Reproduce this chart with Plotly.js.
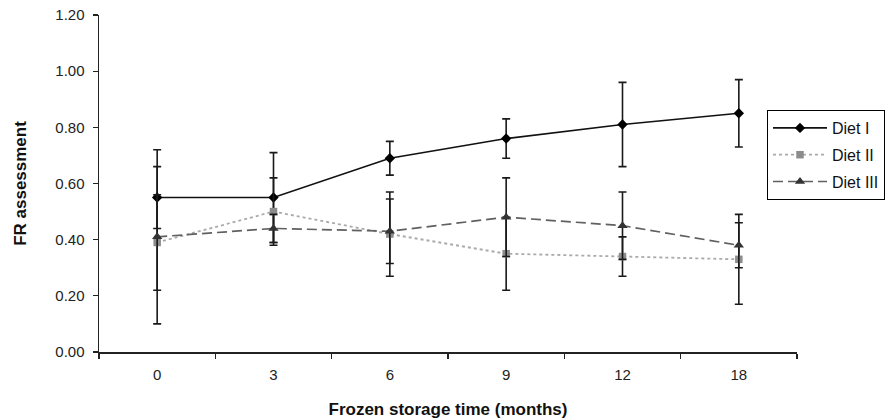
<!DOCTYPE html>
<html>
<head>
<meta charset="utf-8">
<script src="https://cdn.plot.ly/plotly-3.0.1.min.js"></script>
<style>html,body{margin:0;padding:0;background:#fff}#chart{width:887px;height:419px}</style>
</head>
<body>
<div id="chart"></div>
<script>
const months = ['0', '3', '6', '9', '12', '18'];
const diet1 = [0.55, 0.55, 0.69, 0.76, 0.81, 0.85];
const diet1Err = [0.11, 0.16, 0.06, 0.07, 0.15, 0.12];
const diet2 = [0.39, 0.50, 0.42, 0.35, 0.34, 0.33];
const diet2Err = [0.17, 0.12, 0.15, 0.13, 0.07, 0.16];
const diet3 = [0.41, 0.44, 0.43, 0.48, 0.45, 0.38];
const diet3Err = [0.31, 0.05, 0.115, 0.14, 0.12, 0.08];
const names = ['Diet I', 'Diet II', 'Diet III'];

function errBar(arr) {
  return {type: 'data', array: arr, visible: true, color: '#1a1a1a', thickness: 1.6, width: 4};
}

const traces = [
  {x: months, y: diet1, name: names[0], type: 'scatter', mode: 'lines+markers', legendgroup: 'a',
   line: {color: '#111', width: 1.6, dash: 'solid'},
   marker: {symbol: 'diamond', size: 8, color: '#000'}, error_y: errBar(diet1Err)},
  {x: months, y: diet2, name: names[1], type: 'scatter', mode: 'lines+markers', legendgroup: 'b',
   line: {color: '#aaaaaa', width: 1.8, dash: 'dot'},
   marker: {symbol: 'square', size: 7.5, color: '#8c8c8c'}, error_y: errBar(diet2Err)},
  {x: months, y: diet3, name: names[2], type: 'scatter', mode: 'lines+markers', legendgroup: 'c',
   line: {color: '#606060', width: 1.7, dash: '10px,5px'},
   marker: {symbol: 'triangle-up', size: 9, color: '#333'}, error_y: errBar(diet3Err)}
];

const layout = {
  width: 887, height: 419,
  margin: {l: 99, r: 90, t: 15, b: 67, autoexpand: false},
  paper_bgcolor: '#fff', plot_bgcolor: '#fff',
  font: {family: 'Liberation Sans, Arial, sans-serif', size: 15, color: '#222'},
  showlegend: true,
  legend: {xref: 'container', yref: 'container', x: 767 / 887, y: 1 - 110 / 419,
    xanchor: 'left', yanchor: 'top',
    bordercolor: '#000', borderwidth: 1, bgcolor: '#fff',
    font: {size: 16, color: '#111'}, itemwidth: 54, traceorder: 'grouped', tracegroupgap: 3},
  xaxis: {
    type: 'category', categoryorder: 'array', categoryarray: months,
    range: [-0.5, 5.5], showgrid: false, zeroline: false, automargin: false,
    showline: true, linecolor: '#222', linewidth: 1.5,
    ticks: 'outside', ticklen: 5, tickwidth: 1.3, tickcolor: '#222', tickson: 'boundaries',
    ticklabelstandoff: 8,
    title: {text: '<b>Frozen storage time (months)</b>', font: {size: 17, color: '#111'}, standoff: 21}
  },
  yaxis: {
    range: [0, 1.2], dtick: 0.2, tickformat: '.2f',
    showgrid: false, zeroline: false, automargin: false,
    showline: true, linecolor: '#222', linewidth: 1.5,
    ticks: 'outside', ticklen: 5, tickwidth: 1.3, tickcolor: '#222',
    ticklabelstandoff: 5,
    title: {text: '<b>FR assessment</b>', font: {size: 17, color: '#111'}, standoff: 24}
  }
};

Plotly.newPlot('chart', traces, layout, {displayModeBar: false, staticPlot: true});
</script>
</body>
</html>
